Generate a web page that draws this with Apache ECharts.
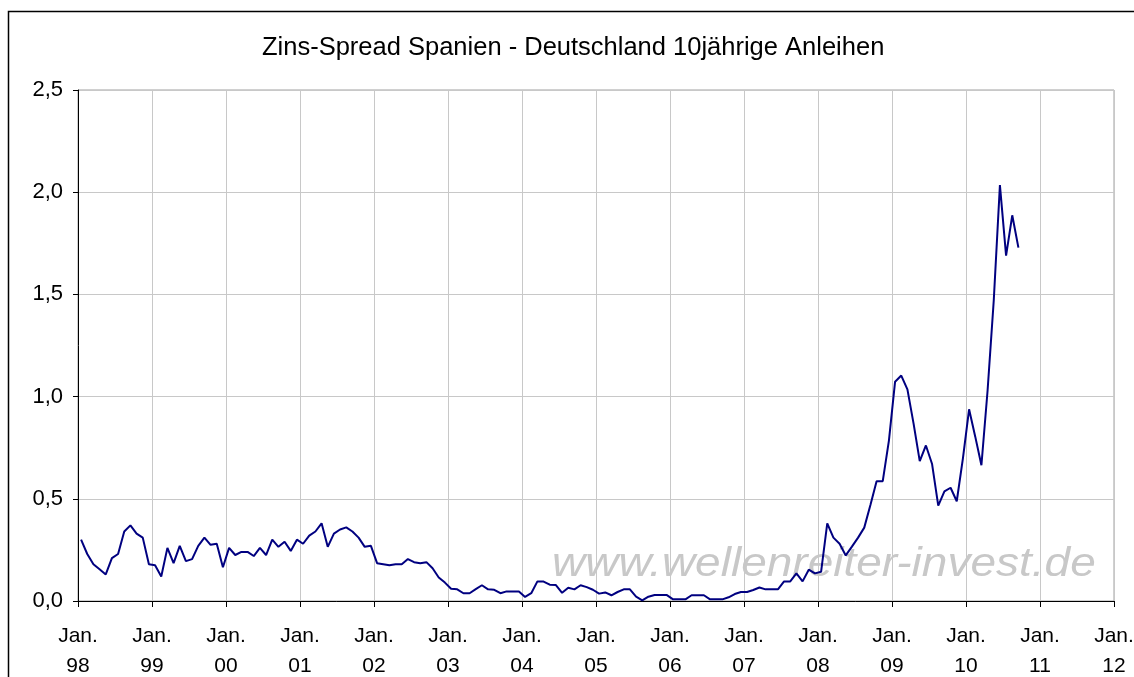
<!DOCTYPE html>
<html>
<head>
<meta charset="utf-8">
<script src="https://cdn.jsdelivr.net/npm/echarts@6/dist/echarts.min.js"></script>
<style>
html,body{margin:0;padding:0;background:#fff;}
#chart{width:1134px;height:677px;}
</style>
</head>
<body>
<div id="chart"></div>
<script>
// Monthly spread values, Jan 1998 .. Sep 2010 (percentage points)
const spreadValues = [
  0.30, 0.23, 0.18, 0.155, 0.13, 0.21, 0.23, 0.34, 0.37, 0.33, 0.31, 0.18,
  0.175, 0.12, 0.26, 0.185, 0.27, 0.195, 0.205, 0.27, 0.31, 0.275, 0.28, 0.165,
  0.26, 0.225, 0.24, 0.24, 0.22, 0.26, 0.225, 0.30, 0.265, 0.29, 0.245, 0.30,
  0.28, 0.32, 0.34, 0.38, 0.265, 0.33, 0.35, 0.36, 0.34, 0.31, 0.265, 0.27,
  0.185, 0.18, 0.175, 0.18, 0.18, 0.205, 0.19, 0.185, 0.19, 0.16, 0.115, 0.09,
  0.06, 0.057, 0.038, 0.038, 0.058, 0.077, 0.057, 0.055, 0.038, 0.047, 0.047, 0.047,
  0.02, 0.038, 0.096, 0.095, 0.08, 0.078, 0.04, 0.065, 0.057, 0.077, 0.068, 0.055,
  0.036, 0.042, 0.028, 0.044, 0.057, 0.057, 0.021, 0.003, 0.021, 0.029, 0.029, 0.029,
  0.008, 0.008, 0.008, 0.028, 0.028, 0.028, 0.008, 0.008, 0.008, 0.018, 0.034, 0.044,
  0.044, 0.054, 0.066, 0.057, 0.057, 0.057, 0.096, 0.096, 0.135, 0.096, 0.153, 0.135,
  0.143, 0.38, 0.31, 0.28, 0.223, 0.266, 0.31, 0.359, 0.47, 0.586, 0.586, 0.785,
  1.073, 1.103, 1.035, 0.868, 0.684, 0.761, 0.67, 0.467, 0.536, 0.554, 0.488, 0.698,
  0.938, 0.804, 0.664, 1.03, 1.47, 2.035, 1.69, 1.887, 1.729
];
// Year tick labels (one per January, Jan 1998 .. Jan 2012)
const yearLabels = ['98','99','00','01','02','03','04','05','06','07','08','09','10','11','12'];
const titleText = 'Zins-Spread Spanien - Deutschland 10jährige Anleihen';
const watermarkText = 'www.wellenreiter-invest.de';

const monthsPerYear = 12;
const seriesData = spreadValues.map((v, i) => [i + 0.5, v]);

const chart = echarts.init(document.getElementById('chart'), null, {renderer: 'canvas'});
const font = 'Liberation Sans, Arial, sans-serif';
chart.setOption({
  animation: false,
  backgroundColor: '#ffffff',
  title: {
    text: titleText,
    left: 257,
    top: 30,
    textStyle: {fontFamily: font, fontSize: 25.5, fontWeight: 'normal', color: '#000'}
  },
  graphic: [
    {
      type: 'rect',
      shape: {x: 8.5, y: 11.5, width: 1200, height: 700},
      style: {fill: 'none', stroke: '#000', lineWidth: 1.5},
      silent: true, z: 100
    },
    {
      type: 'text',
      x: 552, y: 545,
      scaleX: 1.15,
      style: {text: watermarkText, fill: '#c8c8c8', font: 'italic 40px Liberation Sans, Arial, sans-serif', textVerticalAlign: 'top'},
      silent: true, z: 1
    }
  ],
  grid: {
    left: 78, top: 90, right: 20, bottom: 76,
    outerBoundsMode: 'none',
    containLabel: false,
    show: true, borderColor: '#a0a0a0', borderWidth: 1, backgroundColor: 'transparent'
  },
  xAxis: {
    type: 'value',
    min: 0,
    max: (yearLabels.length - 1) * monthsPerYear,
    interval: monthsPerYear,
    axisLine: {show: true, onZero: false, lineStyle: {color: '#000', width: 1}},
    axisTick: {show: true, length: 6, lineStyle: {color: '#000'}},
    splitLine: {show: true, lineStyle: {color: '#c8c8c8', width: 1}},
    axisLabel: {
      margin: 20,
      hideOverlap: false,
      fontFamily: font, fontSize: 21, color: '#000', lineHeight: 30,
      formatter: v => 'Jan.\n' + yearLabels[Math.round(v / monthsPerYear)]
    }
  },
  yAxis: {
    type: 'value',
    min: 0, max: 2.5, interval: 0.5,
    axisLine: {show: true, lineStyle: {color: '#000', width: 1}},
    axisTick: {show: true, length: 5, lineStyle: {color: '#000'}},
    splitLine: {show: true, lineStyle: {color: '#c8c8c8', width: 1}},
    axisLabel: {
      margin: 15,
      fontFamily: font, fontSize: 22, color: '#000',
      formatter: v => v.toFixed(1).replace('.', ',')
    }
  },
  series: [{
    type: 'line',
    data: seriesData,
    showSymbol: false,
    symbol: 'none',
    lineStyle: {color: '#000080', width: 2},
    z: 5
  }]
});
</script>
</body>
</html>
